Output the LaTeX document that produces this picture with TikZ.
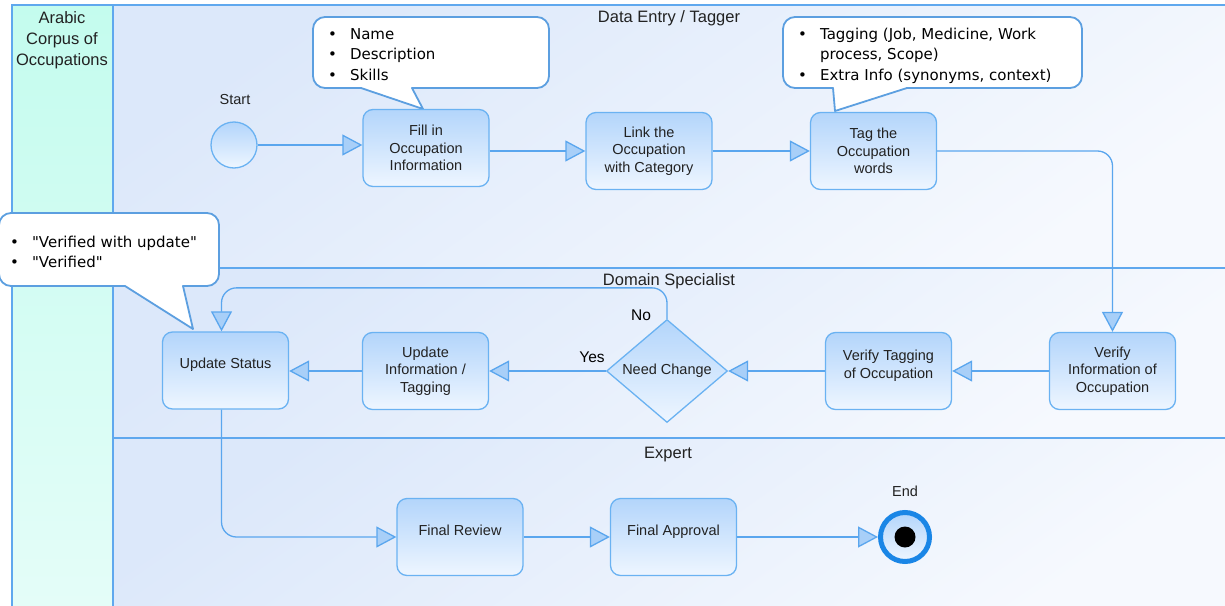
\documentclass[tikz,border=0pt]{standalone}
\usepackage{fontspec}
\setmainfont{Liberation Sans}
\newfontfamily\notefont{DejaVu Sans}
\usetikzlibrary{shapes.geometric,arrows.meta,calc}

\definecolor{flowblue}{HTML}{5AA6EE}
\definecolor{laneline}{HTML}{5FA8EE}
\definecolor{boxborder}{HTML}{6AB2F2}
\definecolor{boxtop}{HTML}{B3D5FB}
\definecolor{boxbottom}{HTML}{EEF6FF}
\definecolor{arrowfill}{HTML}{A8CFF8}
\definecolor{notedraw}{HTML}{5C9FE0}
\definecolor{leftlaneA}{HTML}{C4FCEE}
\definecolor{leftlaneB}{HTML}{E4FDF8}
\definecolor{laneA}{HTML}{DCE8FA}
\definecolor{laneB}{HTML}{F6F9FE}
\definecolor{endblue}{HTML}{1A86E6}
\definecolor{labelgray}{HTML}{222222}

% callout bubble: box (x1,y1)-(x2,y2), tail base from bl to br on the bottom edge, tip (tx,ty)
\newcommand\notebubble[8]{%
  \fill[white, rounded corners=12pt] (#1,#2) rectangle (#3,#4);
  \fill[white] (#5,{#4-1}) -- (#7,#8) -- (#6,{#4-1}) -- cycle;
  \draw[notebox, rounded corners=12pt] (#6,#4) -- (#3,#4) -- (#3,#2) -- (#1,#2) -- (#1,#4) -- (#5,#4);
  \draw[notebox] (#5,#4) -- (#7,#8) -- (#6,#4);
}

\begin{document}
\begin{tikzpicture}[x=1pt,y=-1pt,
  lanerule/.style={draw=laneline, line width=1.8pt},
  lanetitle/.style={inner sep=0pt, text=labelgray, font=\fontsize{16.5}{21}\selectfont, align=center},
  taskbox/.style={rectangle, rounded corners=10pt, draw=boxborder, line width=1.3pt,
    top color=boxtop, bottom color=boxbottom, minimum width=126pt, minimum height=77pt,
    inner sep=0pt, align=center, text=labelgray, font=\fontsize{14.5}{17.5}\selectfont},
  lifted/.style={text depth=14pt},
  decision/.style={diamond, draw=boxborder, line width=1.3pt, top color=boxtop, bottom color=boxbottom,
    minimum width=121pt, minimum height=82pt, inner sep=0pt, text=labelgray,
    font=\fontsize{14.5}{17.5}\selectfont},
  flow/.style={draw=flowblue, line width=1.3pt, -{Triangle[length=20pt,width=21pt,fill=arrowfill]}},
  plainlabel/.style={inner sep=0pt, text=labelgray, font=\fontsize{14.5}{17.5}\selectfont},
  branchlabel/.style={inner sep=0pt, text=black, font=\fontsize{15.5}{18}\selectfont},
  notebox/.style={draw=notedraw, line width=1.8pt, line cap=round, line join=round},
  notetext/.style={inner sep=0pt, text=black, font=\notefont\fontsize{15}{20.5}\selectfont}
]
\useasboundingbox (0,0) rectangle (1225,605);
\fill[white] (0,0) rectangle (1225,605);

% swim lanes
\shade[top color=laneA, bottom color=laneB, shading angle=35] (113,5) rectangle (1225,268);
\shade[top color=laneA, bottom color=laneB, shading angle=35] (113,268) rectangle (1225,438);
\shade[top color=laneA, bottom color=laneB, shading angle=35] (113,438) rectangle (1225,605);
\shade[top color=leftlaneA, bottom color=leftlaneB] (12,5) rectangle (113,605);
\draw[lanerule] (12,606) -- (12,5) -- (1226,5);
\draw[lanerule] (113,5) -- (113,606);
\draw[lanerule] (113,268) -- (1226,268);
\draw[lanerule] (113,438) -- (1226,438);

\node[lanetitle, anchor=north] (laneCorpus) at (62,11) {Arabic\\Corpus of\\Occupations};
\node[lanetitle, anchor=base] (laneEntry) at (669,23) {Data Entry / Tagger};
\node[lanetitle, anchor=base] (laneSpec) at (669,285) {Domain Specialist};
\node[lanetitle, anchor=base] (laneExpert) at (668,458) {Expert};

% callouts
\notebubble{313}{17}{549}{88}{361}{412}{423}{109}
\notebubble{783}{17}{1082}{88}{833}{907}{835}{111}
\notebubble{-1}{213}{219}{286}{125}{183}{193}{329}
\node[notetext, anchor=base west] (noteFill) at (328,39)
  {\begin{tabular}[t]{@{}l@{\hspace{13pt}}l@{}}\textbullet&Name\\ \textbullet&Description\\ \textbullet&Skills\end{tabular}};
\node[notetext, anchor=base west] (noteTag) at (798,39)
  {\begin{tabular}[t]{@{}l@{\hspace{13pt}}l@{}}\textbullet&Tagging (Job, Medicine, Work\\ &process, Scope)\\ \textbullet&Extra Info (synonyms, context)\end{tabular}};
\node[notetext, anchor=base west] (noteStatus) at (10,247)
  {\begin{tabular}[t]{@{}l@{\hspace{13pt}}l@{}}\textbullet&"Verified with update"\\ \textbullet&"Verified"\end{tabular}};

% start and end
\node[circle, draw=boxborder, line width=1.3pt, top color=boxtop, bottom color=boxbottom,
  minimum size=46pt, inner sep=0pt] (start) at (234,145) {};
\node[plainlabel, anchor=base] (startLabel) at (235,104) {Start};
\node[circle, draw=endblue, line width=5pt, top color=boxtop, bottom color=boxbottom,
  minimum size=49pt, inner sep=0pt] (end) at (905,537) {};
\node[circle, fill=black, minimum size=21pt, inner sep=0pt] (endDot) at (end) {};
\node[plainlabel, anchor=base] (endLabel) at (905,496) {End};

% tasks
\node[taskbox] (fill) at (426,148) {Fill in\\Occupation\\Information};
\node[taskbox] (link) at (649,151) {Link the\\Occupation\\with Category};
\node[taskbox] (tag) at (873.5,151) {Tag the\\Occupation\\words};
\node[taskbox] (vinfo) at (1112.5,371) {Verify\\Information of\\Occupation};
\node[taskbox, lifted] (vtag) at (888.5,371) {Verify Tagging\\of Occupation};
\node[decision] (need) at (667,371) {Need Change};
\node[taskbox] (uinfo) at (425.5,371) {Update\\Information /\\Tagging};
\node[taskbox, lifted] (ustat) at (225.5,370.5) {Update Status};
\node[taskbox, lifted] (frev) at (460,537) {Final Review};
\node[taskbox, lifted] (fapp) at (673.5,537) {Final Approval};

\node[branchlabel] (yesLabel) at (592,357) {Yes};
\node[branchlabel] (noLabel) at (641,315) {No};

% flows
\draw[flow] (start) -- (start -| fill.west);
\draw[flow] (fill.east |- link.west) -- (link.west);
\draw[flow] (link.east) -- (tag.west);
\draw[flow, rounded corners=15pt] (tag.east) -| (vinfo.north);
\draw[flow] (vinfo.west) -- (vtag.east);
\draw[flow] (vtag.west) -- (need.east);
\draw[flow] (need.west) -- (uinfo.east);
\draw[flow, rounded corners=15pt] (need.north) -- ++(0,-31) -| ([xshift=-4pt]ustat.north);
\draw[flow] (uinfo.west) -- (ustat.east |- uinfo.west);
\draw[flow, rounded corners=15pt] ([xshift=-4pt]ustat.south) |- (frev.west);
\draw[flow] (frev.east) -- (fapp.west);
\draw[flow] (fapp.east) -- (end);
\end{tikzpicture}
\end{document}
